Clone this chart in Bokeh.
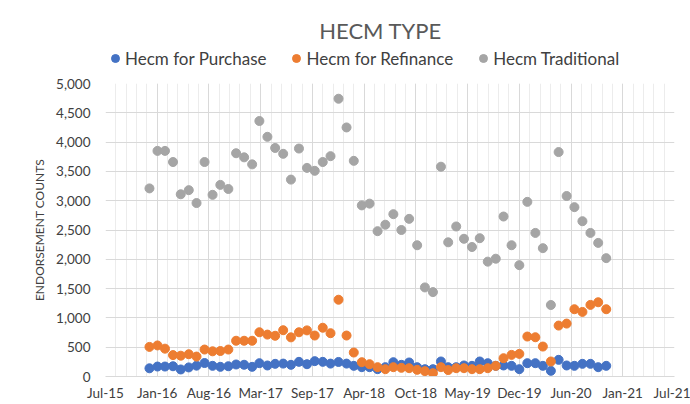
from datetime import datetime, timedelta
import pandas as pd
from bokeh.plotting import figure
from bokeh.layouts import column
from bokeh.models import (Range1d, FixedTicker, DatetimeTickFormatter, NumeralTickFormatter,
                          Legend, LegendItem, ColumnDataSource, Label)
from bokeh.embed import file_html
from bokeh.resources import INLINE

months = [
    "2016-01", "2016-02", "2016-03", "2016-04", "2016-05", "2016-06", "2016-07", "2016-08", "2016-09", "2016-10",
    "2016-11", "2016-12", "2017-01", "2017-02", "2017-03", "2017-04", "2017-05", "2017-06", "2017-07", "2017-08",
    "2017-09", "2017-10", "2017-11", "2017-12", "2018-01", "2018-02", "2018-03", "2018-04", "2018-05", "2018-06",
    "2018-07", "2018-08", "2018-09", "2018-10", "2018-11", "2018-12", "2019-01", "2019-02", "2019-03", "2019-04",
    "2019-05", "2019-06", "2019-07", "2019-08", "2019-09", "2019-10", "2019-11", "2019-12", "2020-01", "2020-02",
    "2020-03", "2020-04", "2020-05", "2020-06", "2020-07", "2020-08", "2020-09", "2020-10", "2020-11",
]

purchase = [
    140, 170, 170, 175, 120, 155, 185, 230, 182, 165,
    175, 205, 200, 165, 227, 188, 216, 220, 199, 250,
    210, 262, 250, 220, 248, 220, 182, 159, 159, 125,
    159, 244, 199, 239, 159, 125, 125, 256, 159, 159,
    188, 182, 256, 227, 182, 188, 182, 125, 227, 227,
    182, 97, 284, 188, 182, 216, 216, 159, 182,
]

refinance = [
    505, 530, 475, 365, 355, 380, 340, 460, 430, 435,
    460, 610, 610, 610, 755, 715, 695, 790, 668, 755,
    787, 699, 832, 739, 1310, 699, 409, 244, 210, 159,
    125, 159, 148, 142, 114, 91, 57, 159, 110, 142,
    142, 125, 125, 142, 182, 312, 369, 386, 682, 670,
    511, 256, 869, 903, 1148, 1102, 1222, 1267, 1148,
]

traditional = [
    3210, 3850, 3850, 3660, 3110, 3180, 2960, 3660, 3100, 3270,
    3200, 3810, 3740, 3620, 4360, 4090, 3900, 3800, 3360, 3890,
    3560, 3510, 3660, 3760, 4740, 4250, 3680, 2920, 2950, 2480,
    2590, 2770, 2500, 2690, 2240, 1520, 1440, 3580, 2290, 2560,
    2350, 2210, 2360, 1960, 2010, 2730, 2240, 1900, 2980, 2450,
    2190, 1220, 3830, 3080, 2890, 2650, 2450, 2280, 2020,
]

series_names = ["Hecm for Purchase", "Hecm for Refinance", "Hecm Traditional"]
series_cols = ["purchase", "refinance", "traditional"]
colors = ["#4472C4", "#ED7D31", "#A5A5A5"]
y_ticks = [0, 500, 1000, 1500, 2000, 2500, 3000, 3500, 4000, 4500, 5000]
title_text = "HECM TYPE"

AX_START = datetime(2015, 7, 15)
AX_END = datetime(2021, 7, 23)
MAJOR_DAYS = 200
MINOR_DAYS = 40
EPOCH = datetime(1970, 1, 1)


def to_ms(d):
    return (d - EPOCH).total_seconds() * 1000.0


span_days = (AX_END - AX_START).days
major = [to_ms(AX_START + timedelta(days=k)) for k in range(0, span_days + 1, MAJOR_DAYS)]
minor = [to_ms(AX_START + timedelta(days=k)) for k in range(0, span_days + 1, MINOR_DAYS)]

src = ColumnDataSource(dict(
    date=pd.to_datetime(months, format="%Y-%m"),
    purchase=purchase,
    refinance=refinance,
    traditional=traditional,
))

FONT = "Lato"
TXT = "#404040"
W = 690
HEAD_H = 70
MAIN_H = 334

# ---------- header: title + legend ----------
head = figure(width=W, height=HEAD_H, x_axis_type="datetime",
              x_range=Range1d(AX_START, AX_END), y_range=Range1d(10000, 10001),
              output_backend="svg", toolbar_location=None,
              x_axis_location=None, y_axis_location=None,
              min_border_left=0, min_border_right=0, min_border_top=0, min_border_bottom=0)
head.grid.visible = False
head.outline_line_color = None
head.add_layout(Label(x=275, y=40, x_units="screen", y_units="screen", text=title_text,
                      text_align="center", text_baseline="middle",
                      text_font=FONT, text_font_size="22px", text_color="#595959"))
# series drawn again in the header only to feed the legend (they fall outside its y range)
keys = [head.scatter(x="date", y=col, source=src, size=9, fill_color=c, line_color=c, marker="circle")
        for col, c in zip(series_cols, colors)]
legend = Legend(items=[LegendItem(label=n, renderers=[r]) for n, r in zip(series_names, keys)],
                orientation="horizontal", location=(0, 1.5),
                glyph_width=20, glyph_height=20, label_standoff=0, spacing=20,
                padding=0, margin=0, border_line_color=None, background_fill_alpha=0,
                label_text_font=FONT, label_text_font_size="17px", label_text_color=TXT)
head.add_layout(legend)

# ---------- main chart ----------
p = figure(width=W, height=MAIN_H, x_axis_type="datetime",
           x_range=Range1d(AX_START, AX_END), y_range=Range1d(0, 5000),
           output_backend="svg", toolbar_location=None,
           min_border_left=105, min_border_right=16, min_border_top=13, min_border_bottom=28)
p.outline_line_color = None

xticker = FixedTicker(ticks=major, minor_ticks=minor)
p.xaxis.ticker = xticker
p.xgrid.ticker = xticker
fmt = "%b-%y"
p.xaxis.formatter = DatetimeTickFormatter(
    microseconds=fmt, milliseconds=fmt, seconds=fmt, minsec=fmt, minutes=fmt,
    hourmin=fmt, hours=fmt, days=fmt, months=fmt, years=fmt)
p.xaxis.major_tick_out = 0
p.xaxis.minor_tick_out = 0
p.xaxis.major_tick_in = 0
p.xaxis.minor_tick_in = 0
p.xaxis.axis_line_color = "#d9d9d9"
p.xaxis.major_label_standoff = 8
p.xaxis.major_label_text_font = FONT
p.xaxis.major_label_text_font_size = "13.5px"
p.xaxis.major_label_text_color = TXT

yticker = FixedTicker(ticks=y_ticks)
p.yaxis.ticker = yticker
p.ygrid.ticker = yticker
p.yaxis.formatter = NumeralTickFormatter(format="0,0")
p.yaxis.axis_line_color = None
p.yaxis.major_tick_out = 0
p.yaxis.minor_tick_out = 0
p.yaxis.major_tick_in = 0
p.yaxis.minor_tick_in = 0
p.yaxis.major_label_standoff = 15
p.yaxis.major_label_text_font = FONT
p.yaxis.major_label_text_font_size = "13.5px"
p.yaxis.major_label_text_color = TXT
p.yaxis.axis_label = "ENDORSEMENT COUNTS"
p.yaxis.axis_label_text_font = FONT
p.yaxis.axis_label_text_font_size = "12px"
p.yaxis.axis_label_text_font_style = "normal"
p.yaxis.axis_label_text_color = TXT
p.yaxis.axis_label_standoff = 6

p.xgrid.grid_line_color = "#d9d9d9"
p.xgrid.minor_grid_line_color = "#ececec"
p.ygrid.grid_line_color = "#d9d9d9"

for col, c in zip(series_cols, colors):
    p.scatter(x="date", y=col, source=src, size=9, fill_color=c, line_color=c, marker="circle")

layout = column(head, p, spacing=0)
open("out.html", "w").write(file_html(layout, INLINE))
